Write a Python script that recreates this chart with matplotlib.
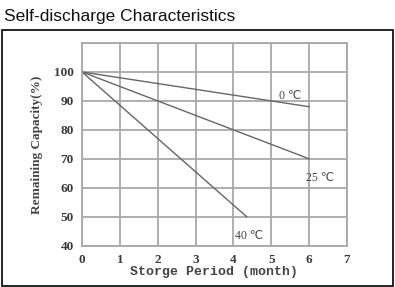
import matplotlib
matplotlib.use("Agg")
import matplotlib.pyplot as plt
from matplotlib.patches import Rectangle

# Data
months = [0, 6]
cap_0c = [100, 88]
months_25 = [0, 6]
cap_25c = [100, 70]
months_40 = [0, 4.35]
cap_40c = [100, 50]
xticks = [0, 1, 2, 3, 4, 5, 6, 7]
yticks = [40, 50, 60, 70, 80, 90, 100]
labels = ["0 \u2103", "25 \u2103", "40 \u2103"]
label_pos = [(5.5, 91.8), (6.3, 63.5), (4.4, 43.2)]

W, H = 395, 287
fig = plt.figure(figsize=(W / 100, H / 100), dpi=100)
fig.patch.set_facecolor("white")

# outer box
fig.add_artist(Rectangle((1.5 / W, 1.5 / H), (393 - 1.5) / W, (257 - 1.5) / H,
                         transform=fig.transFigure, fill=False,
                         edgecolor="black", linewidth=1.2))
fig.text(4 / W, 1 - 17 / H, "Self-discharge Characteristics",
         fontsize=12.5, family="Liberation Sans", color="#111111", va="center", ha="left")

ax = fig.add_axes([82 / W, 1 - 245.7 / H, (347 - 82) / W, (245.7 - 43) / H])
ax.set_xlim(0, 7)
ax.set_ylim(40, 110)
ax.set_xticks(xticks)
ax.set_yticks(yticks + [110])
ax.set_yticklabels([str(v) for v in yticks] + [""])
ax.grid(True, color="#a8a8a8", linewidth=1.3)
ax.set_axisbelow(True)
for s in ax.spines.values():
    s.set_color("#a8a8a8")
    s.set_linewidth(1.3)
ax.tick_params(length=0, pad=6, labelsize=9.5, colors="#3a3a3a")
for t in ax.get_xticklabels() + ax.get_yticklabels():
    t.set_family("Liberation Serif")
    t.set_fontweight("bold")

lc = "#666666"
ax.plot(months, cap_0c, color=lc, linewidth=1.0)
ax.plot(months_25, cap_25c, color=lc, linewidth=1.0)
ax.plot(months_40, cap_40c, color=lc, linewidth=1.0)

for lab, (x, y) in zip(labels, label_pos):
    ax.text(x, y, lab, fontsize=8.5, family=["Liberation Serif", "DejaVu Sans"],
            color="#444444", ha="center", va="center")

ax.set_xlabel("Storge Period (month)", family="Liberation Mono", fontweight="bold",
              fontsize=9.5, color="#444444", labelpad=0)
ax.set_ylabel("Remaining Capacity(%)", family="Liberation Serif", fontweight="bold",
              fontsize=9.5, color="#444444", labelpad=8)

fig.savefig("out.png", dpi=100, facecolor="white")
